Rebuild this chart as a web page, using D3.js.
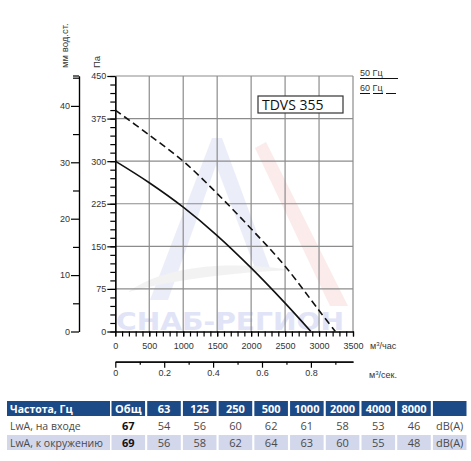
<!DOCTYPE html>
<html>
<head>
<meta charset="utf-8">
<script src="https://cdn.jsdelivr.net/npm/d3@7"></script>
<style>
  body { margin: 0; background: #fff; }
  svg text { font-family: "Liberation Sans", Arial, sans-serif; }
  .tbl text { font-family: "Open Sans", "Noto Sans", sans-serif; }
</style>
</head>
<body>
<div id="chart"></div>
<script>
// fan curve, 50 Hz (solid) and 60 Hz (dashed)
var flow50  = [0, 500, 1000, 1500, 2000, 2500, 2880];
var press50 = [300, 262, 219, 169, 112, 50, 0];
var flow60  = [0, 500, 1000, 1500, 2000, 2500, 3000, 3240];
var press60 = [390, 346, 300, 243, 181, 115, 37, 0];

// sound table
var freqHeaders = ["Общ", "63", "125", "250", "500", "1000", "2000", "4000", "8000", ""];
var inletLw     = [67, 54, 56, 60, 62, 61, 58, 53, 46];
var surroundLw  = [69, 56, 58, 62, 64, 63, 60, 55, 48];
var rowLabels   = ["LwA, на входе", "LwA, к окружению"];

var width = 471, height = 461;

var svg = d3.select("#chart").append("svg")
    .attr("width", width)
    .attr("height", height);

var x = d3.scaleLinear().domain([0, 3500]).range([115.3, 353]);
var xs = d3.scaleLinear().domain([0, 3500 / 3600]).range([115.3, 353]);
var y = d3.scaleLinear().domain([0, 450]).range([331.5, 76]);
var ymm = d3.scaleLinear().domain([0, 45.3]).range([331.5, 76]);

// watermark (faint logo behind the chart)
var wm = svg.append("g").attr("opacity", 0.25);
wm.append("path")
    .attr("d", "M150,300 L212,138 L222,138 L270,268 L255,268 L216,165 L168,300 Z")
    .attr("fill", "#b3bce6");
wm.append("path")
    .attr("d", "M255,148 L266,142 L348,306 L330,306 Z")
    .attr("fill", "#f0b4b4");
wm.append("path")
    .attr("d", "M128,292 C170,262 240,262 292,270 C240,272 180,278 128,292 Z")
    .attr("fill", "#cccccc");
svg.append("text")
    .attr("x", 116).attr("y", 330)
    .attr("textLength", 228)
    .attr("lengthAdjust", "spacingAndGlyphs")
    .style("font-family", "'DejaVu Sans', sans-serif")
    .style("font-weight", "bold")
    .style("font-size", "24px")
    .attr("fill", "#e1e4f7")
    .text("СНАБ-РЕГИОН");

// grid
var grid = svg.append("g").attr("stroke", "#8c8c8c").attr("stroke-width", 1.2);
grid.selectAll(".vg")
    .data(d3.range(500, 3501, 500))
    .enter().append("line")
    .attr("x1", function(d) { return x(d); })
    .attr("x2", function(d) { return x(d); })
    .attr("y1", y(0)).attr("y2", y(450));
grid.selectAll(".hg")
    .data(d3.range(75, 451, 75))
    .enter().append("line")
    .attr("x1", x(0)).attr("x2", x(3500))
    .attr("y1", function(d) { return y(d); })
    .attr("y2", function(d) { return y(d); });

// axes helper: style ticks and labels
function styleAxis(g) {
    g.selectAll("path, line").attr("stroke", "#000").attr("stroke-width", 1.2);
    g.selectAll("text").attr("fill", "#333").style("font-size", "9px");
}

// Pa axis
svg.append("g").attr("transform", "translate(" + x(0) + ",0)")
    .call(d3.axisLeft(y).tickValues(d3.range(0, 451, 15)).tickSize(5).tickFormat("").tickSizeOuter(0))
    .call(styleAxis);
svg.append("g").attr("transform", "translate(" + x(0) + ",0)")
    .call(d3.axisLeft(y).tickValues(d3.range(0, 451, 75)).tickSize(8).tickPadding(1).tickSizeOuter(0))
    .call(styleAxis);

// mm water column axis
svg.append("g").attr("transform", "translate(79,0)")
    .call(d3.axisLeft(ymm).tickValues(d3.range(5, 46, 10)).tickSize(6).tickFormat("").tickSizeOuter(0))
    .call(styleAxis);
svg.append("g").attr("transform", "translate(79,0)")
    .call(d3.axisLeft(ymm).tickValues(d3.range(0, 41, 10)).tickSize(8).tickPadding(1).tickSizeOuter(0))
    .call(styleAxis);
svg.append("line").attr("x1", 73).attr("x2", 79).attr("y1", 76).attr("y2", 76)
    .attr("stroke", "#000").attr("stroke-width", 1.2);

// m3/h axis
svg.append("g").attr("transform", "translate(0," + y(0) + ")")
    .call(d3.axisBottom(x).tickValues(d3.range(0, 3501, 100)).tickSize(5).tickFormat("").tickSizeOuter(0))
    .call(styleAxis);
svg.append("g").attr("transform", "translate(0," + y(0) + ")")
    .call(d3.axisBottom(x).tickValues(d3.range(0, 3501, 500)).tickSize(5).tickPadding(6)
        .tickFormat(d3.format("d")).tickSizeOuter(0))
    .call(styleAxis);

// m3/s axis
svg.append("g").attr("transform", "translate(0,361.7)")
    .call(d3.axisBottom(xs).tickValues([0.1, 0.3, 0.5, 0.7, 0.9]).tickSize(3).tickFormat("").tickSizeOuter(0))
    .call(styleAxis);
svg.append("g").attr("transform", "translate(0,361.7)")
    .call(d3.axisBottom(xs).tickValues([0, 0.2, 0.4, 0.6, 0.8]).tickSize(6).tickPadding(2)
        .tickFormat(function(d) { return d === 0 ? "0" : d3.format(".1f")(d); }).tickSizeOuter(0))
    .call(styleAxis);

// unit labels
svg.append("text").attr("transform", "translate(68,68) rotate(-90)")
    .attr("fill", "#333").style("font-size", "9.5px").text("мм вод.ст.");
svg.append("text").attr("transform", "translate(100,68) rotate(-90)")
    .attr("fill", "#333").style("font-size", "9.5px").text("Па");
var u1 = svg.append("text").attr("x", 370).attr("y", 349).attr("fill", "#333").style("font-size", "9px");
u1.append("tspan").text("м");
u1.append("tspan").attr("dy", -3).style("font-size", "6px").text("3");
u1.append("tspan").attr("dy", 3).text("/час");
var u2 = svg.append("text").attr("x", 369).attr("y", 378).attr("fill", "#333").style("font-size", "9px");
u2.append("tspan").text("м");
u2.append("tspan").attr("dy", -3).style("font-size", "6px").text("3");
u2.append("tspan").attr("dy", 3).text("/сек.");

// curves
var line = d3.line()
    .x(function(d) { return x(d[0]); })
    .y(function(d) { return y(d[1]); })
    .curve(d3.curveCatmullRom);

svg.append("path")
    .datum(d3.zip(flow50, press50))
    .attr("d", line)
    .attr("fill", "none").attr("stroke", "#111").attr("stroke-width", 1.6);
svg.append("path")
    .datum(d3.zip(flow60, press60))
    .attr("d", line)
    .attr("fill", "none").attr("stroke", "#111").attr("stroke-width", 1.6)
    .attr("stroke-dasharray", "7,4");

// model label
svg.append("rect").attr("x", 258).attr("y", 96).attr("width", 85).attr("height", 17)
    .attr("fill", "#fff").attr("stroke", "#333").attr("stroke-width", 1.2);
svg.append("text").attr("x", 262).attr("y", 110)
    .style("font-family", "'Open Sans', sans-serif").style("font-size", "14px")
    .attr("fill", "#111").text("TDVS 355");

// legend
svg.append("text").attr("x", 360).attr("y", 76).attr("fill", "#333").style("font-size", "9px").text("50 Гц");
svg.append("line").attr("x1", 360).attr("x2", 398).attr("y1", 78.5).attr("y2", 78.5)
    .attr("stroke", "#111").attr("stroke-width", 1);
svg.append("text").attr("x", 360).attr("y", 91).attr("fill", "#333").style("font-size", "9px").text("60 Гц");
svg.append("line").attr("x1", 360).attr("x2", 398).attr("y1", 93.5).attr("y2", 93.5)
    .attr("stroke", "#111").attr("stroke-width", 1).attr("stroke-dasharray", "10,3");

// sound table
var tbl = svg.append("g").attr("class", "tbl");
var col = d3.scaleBand().domain(d3.range(freqHeaders.length)).range([111.5, 466.5]).paddingInner(0.06);
var rowTop = [401, 418, 435], rowH = 15;

// header
tbl.append("rect").attr("x", 7).attr("y", rowTop[0]).attr("width", 103).attr("height", rowH).attr("fill", "#1c4a87");
tbl.selectAll(".hc").data(freqHeaders).enter().append("rect")
    .attr("x", function(d, i) { return col(i); })
    .attr("y", rowTop[0]).attr("width", col.bandwidth()).attr("height", rowH)
    .attr("fill", "#1c4a87");
tbl.append("text").attr("x", 10).attr("y", rowTop[0] + 11.5)
    .attr("fill", "#fff").style("font-weight", "bold").style("font-size", "10.5px").text("Частота, Гц");
tbl.selectAll(".ht").data(freqHeaders).enter().append("text")
    .attr("x", function(d, i) { return col(i) + col.bandwidth() / 2; })
    .attr("y", rowTop[0] + 11.5)
    .attr("text-anchor", "middle")
    .attr("fill", "#fff").style("font-weight", "bold").style("font-size", "11px")
    .text(function(d) { return d; });

// second row background (lavender)
tbl.append("rect").attr("x", 7).attr("y", rowTop[2]).attr("width", 103).attr("height", rowH).attr("fill", "#d3d7eb");
tbl.selectAll(".bc").data(freqHeaders).enter().append("rect")
    .attr("x", function(d, i) { return col(i); })
    .attr("y", rowTop[2]).attr("width", col.bandwidth()).attr("height", rowH)
    .attr("fill", "#d3d7eb");

[inletLw, surroundLw].forEach(function(vals, r) {
    var yy = rowTop[r + 1] + 11.5;
    tbl.append("text").attr("x", 10).attr("y", yy)
        .attr("fill", "#4a4a4a").style("font-size", "10.5px").text(rowLabels[r]);
    tbl.selectAll(".v" + r).data(vals.concat(["dB(A)"])).enter().append("text")
        .attr("x", function(d, i) { return col(i) + col.bandwidth() / 2; })
        .attr("y", yy)
        .attr("text-anchor", "middle")
        .attr("fill", function(d, i) { return i === 0 ? "#111" : "#4a4a4a"; })
        .style("font-weight", function(d, i) { return i === 0 ? "bold" : "normal"; })
        .style("font-size", "11px")
        .text(function(d) { return d; });
});
</script>
</body>
</html>
